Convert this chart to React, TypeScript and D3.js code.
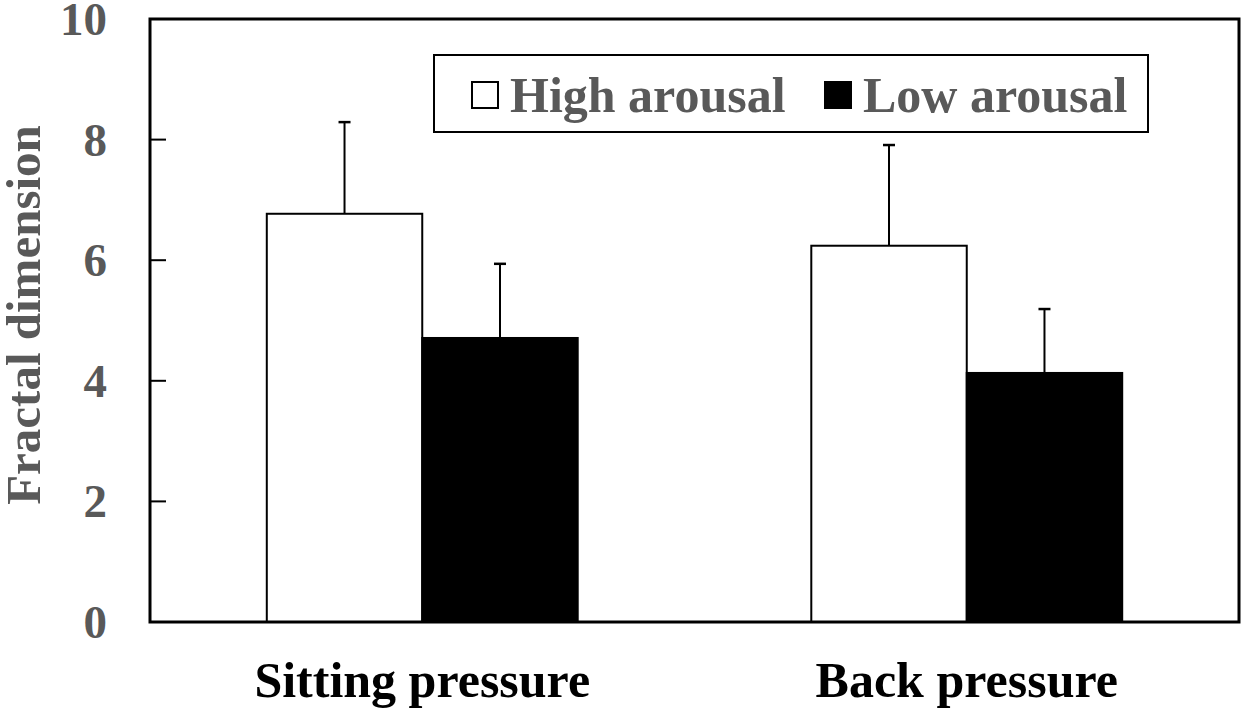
import * as d3 from "d3";

const categories = ["Sitting pressure", "Back pressure"];
const series = ["High arousal", "Low arousal"];
const highMeans = [6.77, 6.24];
const highErrors = [1.52, 1.67];
const lowMeans = [4.71, 4.13];
const lowErrors = [1.23, 1.06];
const yTicks = [0, 2, 4, 6, 8, 10];

const WIDTH = 1245;
const HEIGHT = 712;
const FRAME = { left: 150, right: 1239, top: 19, bottom: 622 };
const FONT = "'Liberation Serif', 'Times New Roman', serif";
const GREY = "#595959";
const FILLS: Record<string, string> = { "High arousal": "#ffffff", "Low arousal": "#000000" };

export default function App() {
  const x = d3
    .scaleBand<string>()
    .domain(categories)
    .range([FRAME.left, FRAME.right])
    .paddingInner(0.429)
    .paddingOuter(0.2145);

  const xInner = d3.scaleBand<string>().domain(series).range([0, x.bandwidth()]);

  const y = d3.scaleLinear().domain([0, 10]).range([FRAME.bottom, FRAME.top]);

  const bars = categories.flatMap((cat, i) => [
    { cat, s: series[0], mean: highMeans[i], err: highErrors[i] },
    { cat, s: series[1], mean: lowMeans[i], err: lowErrors[i] },
  ]);

  return (
    <svg
      width={WIDTH}
      height={HEIGHT}
      style={{ position: "absolute", left: 0, top: 0, background: "#fff" }}
    >
      {/* bars */}
      {bars.map((b) => {
        const bx = (x(b.cat) ?? 0) + (xInner(b.s) ?? 0);
        return (
          <rect
            key={b.cat + b.s}
            x={bx}
            y={y(b.mean)}
            width={xInner.bandwidth()}
            height={y(0) - y(b.mean)}
            fill={FILLS[b.s]}
            stroke="#000"
            strokeWidth={2}
          />
        );
      })}

      {/* error bars (upper only) */}
      {bars.map((b) => {
        const cx = (x(b.cat) ?? 0) + (xInner(b.s) ?? 0) + xInner.bandwidth() / 2;
        const top = y(b.mean + b.err);
        return (
          <g key={"e" + b.cat + b.s} stroke="#000" strokeWidth={2}>
            <line x1={cx} x2={cx} y1={y(b.mean)} y2={top} />
            <line x1={cx - 6} x2={cx + 6} y1={top} y2={top} strokeWidth={2.5} />
          </g>
        );
      })}

      {/* frame */}
      <rect
        x={FRAME.left}
        y={FRAME.top}
        width={FRAME.right - FRAME.left}
        height={FRAME.bottom - FRAME.top}
        fill="none"
        stroke="#000"
        strokeWidth={3}
      />

      {/* y ticks */}
      {yTicks.map((t) => (
        <g key={t}>
          <line x1={FRAME.left} x2={FRAME.left + 16} y1={y(t)} y2={y(t)} stroke="#000" strokeWidth={2} />
          <text
            x={107}
            y={y(t) + 16}
            textAnchor="end"
            fontFamily={FONT}
            fontWeight="bold"
            fontSize={47}
            fill={GREY}
          >
            {t}
          </text>
        </g>
      ))}

      {/* y title */}
      <text
        transform="translate(40,315) rotate(-90)"
        textAnchor="middle"
        fontFamily={FONT}
        fontWeight="bold"
        fontSize={49}
        fill={GREY}
      >
        Fractal dimension
      </text>

      {/* category labels */}
      {categories.map((c) => (
        <text
          key={c}
          x={(x(c) ?? 0) + x.bandwidth() / 2}
          y={697}
          textAnchor="middle"
          fontFamily={FONT}
          fontWeight="bold"
          fontSize={50}
          fill="#000"
        >
          {c}
        </text>
      ))}

      {/* legend */}
      <rect x={434} y={55} width={714} height={77} fill="#fff" stroke="#000" strokeWidth={2} />
      {series.map((s, i) => {
        const lx = i === 0 ? 472 : 825;
        return (
          <g key={s}>
            <rect x={lx} y={82} width={26} height={26} fill={FILLS[s]} stroke="#000" strokeWidth={2} />
            <text
              x={lx + 38}
              y={112}
              fontFamily={FONT}
              fontWeight="bold"
              fontSize={50}
              fill={GREY}
            >
              {s}
            </text>
          </g>
        );
      })}
    </svg>
  );
}
